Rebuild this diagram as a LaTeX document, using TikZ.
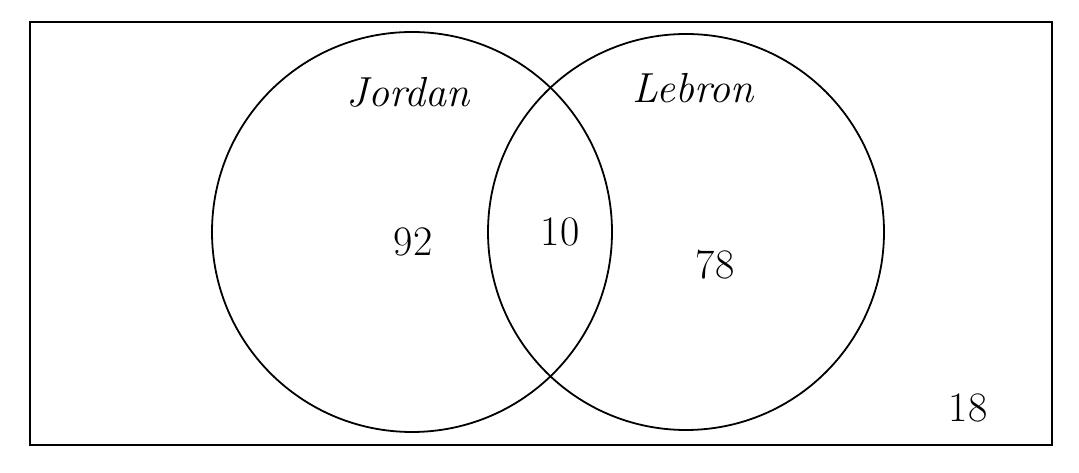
\documentclass[tikz,border=0pt]{standalone}
\begin{document}
\begin{tikzpicture}[x=1pt,y=1pt,
  shapeline/.style={line width=1.8pt},
  lbl/.style={font=\fontsize{42}{46}\selectfont, inner sep=0pt}]
\useasboundingbox (0,0) rectangle (1079,473);
\draw[shapeline] (30,28) rectangle (1052,451);
\draw[shapeline] (412,241) circle (200);
\draw[shapeline] (686,241) circle (198);
\node[lbl] (jordan) at (408,381) {\itshape Jordan};
\node[lbl] (lebron) at (693,385) {\itshape Lebron};
\node[lbl] (a) at (413,231) {92};
\node[lbl] (b) at (560,241) {10};
\node[lbl] (c) at (715,208) {78};
\node[lbl] (d) at (968,65) {18};
\end{tikzpicture}
\end{document}
